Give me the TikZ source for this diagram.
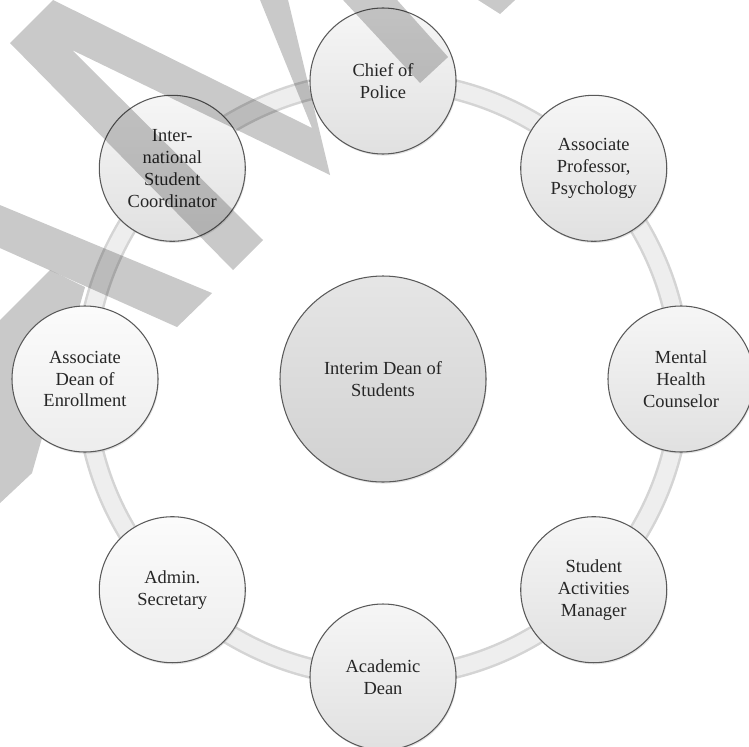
\documentclass[tikz,border=0pt]{standalone}
\usepackage{fontspec}
\setmainfont{Liberation Serif}
\usetikzlibrary{backgrounds,shadows}

\begin{document}
\begin{tikzpicture}[
    role/.style={circle, draw=gray!70!black, line width=0.6pt, minimum size=2.92cm, inner sep=0pt,
                 align=center, top color=gray!7, bottom color=gray!24, text=black!85,
                 font=\fontsize{10.5}{12.5}\selectfont,
                 drop shadow={opacity=0.22, shadow xshift=0.5pt, shadow yshift=-0.9pt}},
    pale/.style={top color=gray!3, bottom color=gray!14},
    hub/.style={role, minimum size=4.12cm, top color=gray!20, bottom color=gray!36},
    ring/.style={line width=0.42cm, gray!34},
    ringlight/.style={line width=0.32cm, gray!13},
    watermark/.style={fill=black, fill opacity=0.21}
]
    \useasboundingbox (0,0) rectangle (14.98,-14.92);

    % Nodes {hub, chief, prof, counselor, activities, academic, secretary, enroll, intl}
    \node [hub]          (hub)        at (7.66,-7.58)                  {Interim Dean of\\Students};
    \node [role]         (chief)      at ([shift={(90:5.96)}]hub)      {Chief of\\Police};
    \node [role]         (prof)       at ([shift={(45:5.96)}]hub)      {Associate\\Professor,\\Psychology};
    \node [role]         (counselor)  at ([shift={(0:5.96)}]hub)       {Mental\\Health\\Counselor};
    \node [role]         (activities) at ([shift={(-45:5.96)}]hub)     {Student\\Activities\\Manager};
    \node [role]         (academic)   at ([shift={(-90:5.96)}]hub)     {Academic\\Dean};
    \node [role, pale]   (secretary)  at ([shift={(-135:5.96)}]hub)    {Admin.\\Secretary};
    \node [role, pale]   (enroll)     at ([shift={(180:5.96)}]hub)     {Associate\\Dean of\\Enrollment};
    \node [role]         (intl)       at ([shift={(135:5.96)}]hub)     {Inter-\\national\\Student\\Coordinator};

    % Ring (and the watermark stroke that runs behind the left node)
    \begin{scope}[on background layer]
        \draw [ring]      (hub) circle (5.96);
        \draw [ringlight] (hub) circle (5.96);
        \fill [watermark, x=0.02cm, y=-0.02cm] (50,270) -- (85,287) -- (32,473) -- (0,503) -- (0,320) -- cycle;
    \end{scope}

    % Watermark
    \begin{scope}[x=0.02cm, y=-0.02cm]
        \fill [watermark] (10,43) -- (53,0) -- (312,128) -- (260,0) -- (288,0) -- (330,175)
                          -- (72,50) -- (263,240) -- (233,270) -- cycle;
        \fill [watermark] (343,0) -- (397,0) -- (448,57) -- (420,83) -- cycle;
        \fill [watermark] (478,0) -- (515,0) -- (500,14) -- cycle;
        \fill [watermark] (0,205) -- (212,293) -- (177,327) -- (0,248) -- cycle;
    \end{scope}
\end{tikzpicture}
\end{document}
